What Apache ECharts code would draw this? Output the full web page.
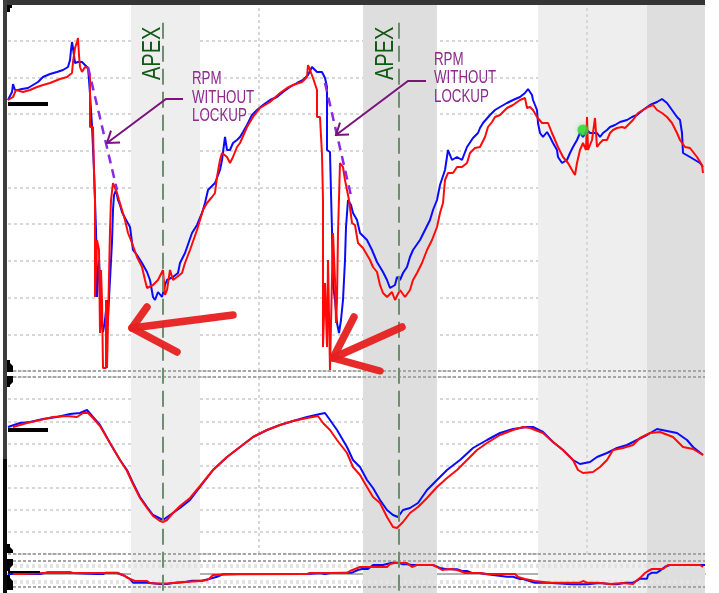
<!DOCTYPE html>
<html><head><meta charset="utf-8">
<script src="https://cdn.jsdelivr.net/npm/echarts@6.0.0/dist/echarts.min.js"></script>
<style>html,body{margin:0;padding:0;background:#fff;}#c{width:719px;height:593px;}</style>
</head><body><div id="c"></div>
<script>
// ---- DATA (distance units along lap, engine rpm, speed km/h, lateral g) ----
const rpmBlue = [[0,8130],[2,8190],[4,8370],[5,8610],[7,8430],[10,8430],[14,8460],[20,8490],[25,8580],[30,8670],[35,8820],[42,8910],[49,8970],[55,9030],[60,9120],[62,9330],[63,9630],[64,9870],[65,9690],[67,9240],[70,9270],[74,9270],[77,9180],[80,9090],[81,8730],[82,8310],[84,7350],[86,6030],[88,4230],[89,2220],[91,3330],[93,2130],[94,1380],[95,1170],[97,1530],[99,2130],[100,1620],[102,2730],[104,3870],[105,4830],[106,5280],[108,5430],[110,5130],[112,4980],[114,4770],[117,4590],[122,4320],[125,3630],[129,3480],[134,3240],[139,2970],[142,2730],[145,2220],[147,2130],[150,2370],[152,2430],[154,2220],[157,2580],[159,2730],[165,2820],[170,2940],[172,3240],[177,3540],[184,4140],[189,4380],[194,4740],[197,5040],[200,5430],[207,5640],[212,6030],[214,6330],[217,7020],[219,6630],[222,6630],[225,6840],[229,6930],[232,7020],[235,7170],[239,7380],[244,7680],[249,7830],[255,7980],[262,8130],[269,8220],[275,8370],[282,8520],[289,8640],[295,8730],[300,8880],[304,9120],[305,9120],[309,8970],[314,8970],[317,8790],[319,8520],[319,6630],[322,6570],[323,5340],[324,4230],[325,2580],[327,2130],[329,1440],[331,1140],[333,1530],[335,2130],[337,3330],[338,4320],[340,5130],[343,4980],[345,4740],[349,4530],[352,4140],[359,3930],[364,3630],[369,3270],[372,3120],[375,2970],[379,2730],[382,2490],[387,2580],[389,2820],[392,2730],[395,2940],[399,3120],[402,3420],[405,3630],[412,3930],[417,4230],[422,4530],[425,4830],[429,5130],[432,5580],[437,6030],[440,6630],[444,6330],[449,6420],[454,6330],[459,6720],[465,6990],[470,7140],[472,7290],[475,7440],[482,7680],[487,7830],[492,7920],[499,8040],[505,8130],[512,8220],[517,8340],[520,8460],[524,8280],[525,8130],[529,7830],[530,7440],[532,7140],[535,7020],[539,7170],[542,7020],[545,6840],[549,6630],[550,6420],[554,6240],[559,6330],[562,6540],[565,6720],[569,6930],[572,7140],[575,7020],[579,7230],[582,7140],[589,7140],[592,7020],[595,7140],[599,7230],[602,7320],[607,7380],[612,7470],[619,7530],[624,7620],[629,7680],[635,7830],[642,7980],[649,8070],[654,8160],[659,8040],[664,7830],[669,7620],[672,7530],[674,7140],[675,6540],[682,6420],[687,6330],[692,6240],[695,6120]];
const rpmRed = [[0,8130],[2,8130],[5,8220],[8,8430],[10,8370],[15,8370],[22,8430],[29,8520],[35,8580],[42,8640],[52,8760],[59,8820],[64,8940],[65,9270],[67,9690],[69,9870],[70,9990],[71,9480],[72,9120],[74,8970],[77,9120],[80,9090],[82,8820],[82,7320],[85,7320],[86,5940],[87,5130],[87,2220],[89,3930],[91,3630],[92,1140],[93,3030],[94,2130],[95,90],[98,90],[98,2130],[99,90],[101,2820],[102,4230],[103,5130],[105,5640],[107,5670],[109,5340],[111,5130],[114,4830],[117,4530],[120,4140],[124,3840],[129,3420],[134,3120],[137,2730],[139,2490],[145,2580],[150,2730],[155,3030],[157,2280],[159,2430],[162,3030],[165,2730],[169,2820],[174,2940],[177,3240],[182,3630],[189,4230],[192,4530],[195,4830],[199,5040],[204,5220],[207,5340],[209,5820],[212,6330],[214,6540],[219,6420],[222,6240],[225,6420],[229,6720],[232,6840],[239,7320],[245,7620],[252,7890],[262,8070],[272,8340],[279,8490],[285,8580],[294,8670],[299,8820],[300,9180],[302,9030],[304,9030],[305,8790],[309,8430],[309,7620],[312,7620],[314,6480],[315,5130],[315,720],[317,2640],[319,720],[320,3330],[322,30],[324,30],[325,4140],[327,2730],[328,1440],[329,2130],[330,4140],[332,6240],[335,6120],[337,5730],[339,5430],[341,5130],[344,4440],[347,4380],[350,3840],[355,3690],[362,3330],[365,3120],[369,2970],[372,2580],[375,2340],[379,2220],[384,2370],[387,2130],[392,2430],[397,2220],[402,2430],[405,2730],[409,2940],[414,3240],[419,3630],[424,3930],[429,4320],[432,4740],[435,5040],[437,5730],[440,5940],[445,5940],[449,6120],[454,6120],[459,6240],[462,6540],[467,6690],[472,6720],[477,7020],[480,7320],[484,7470],[487,7620],[492,7680],[499,7890],[505,7980],[512,8130],[517,8190],[519,7890],[522,7920],[525,7830],[529,7620],[534,7440],[540,7440],[544,7140],[547,6930],[550,6720],[555,6420],[560,6240],[564,6030],[567,5880],[569,6240],[572,6630],[575,6840],[578,6630],[579,7620],[580,6630],[584,6930],[587,7590],[589,6720],[592,6840],[595,6930],[599,6930],[602,7140],[605,7230],[609,7290],[614,7320],[617,7290],[622,7440],[625,7530],[630,7740],[635,7830],[640,7920],[645,7980],[649,7830],[654,7740],[659,7620],[664,7440],[669,7140],[672,6930],[677,6720],[682,6690],[689,6420],[694,6180],[695,5940]];
const speedBlue = [[0,127],[2,127],[12,131],[22,132],[35,135],[49,137],[62,140],[72,141],[79,144],[85,137],[92,129],[102,111],[112,94],[119,84],[125,71],[132,57],[139,47],[145,39],[155,34],[162,39],[172,46],[182,54],[192,67],[205,84],[219,97],[232,107],[245,117],[259,124],[272,129],[285,133],[299,137],[312,140],[317,141],[322,134],[329,124],[339,107],[345,94],[352,87],[359,74],[365,66],[372,54],[379,44],[385,39],[390,37],[395,44],[402,46],[410,51],[419,64],[429,74],[439,84],[452,94],[465,106],[479,114],[492,121],[505,125],[519,127],[525,127],[535,122],[545,112],[555,104],[565,94],[572,90],[582,92],[589,97],[599,101],[609,106],[619,109],[629,114],[639,119],[649,125],[659,123],[669,121],[679,114],[685,107],[695,99]];
const speedRed = [[5,127],[19,131],[32,134],[45,137],[59,138],[69,137],[75,141],[80,141],[85,136],[92,128],[102,111],[112,94],[119,83],[125,70],[132,56],[139,46],[145,38],[152,33],[155,32],[159,34],[164,40],[172,48],[182,56],[192,68],[205,84],[219,97],[232,107],[245,117],[259,124],[272,129],[285,133],[299,136],[310,138],[312,137],[315,131],[322,124],[329,114],[339,101],[345,87],[352,79],[359,67],[365,57],[372,51],[379,37],[385,27],[389,26],[395,32],[402,41],[410,47],[419,56],[429,67],[439,76],[449,84],[459,94],[469,104],[479,111],[492,119],[505,124],[515,127],[522,126],[535,121],[545,112],[555,104],[565,94],[570,84],[575,81],[585,82],[592,87],[599,94],[605,104],[615,106],[625,109],[632,116],[642,121],[652,122],[665,117],[675,107],[685,105],[695,99]];
const latBlue = [[0,0],[32,0],[40,0.17],[62,0.17],[65,0.1],[89,0],[95,0],[98,0.13],[109,0.13],[112,0],[117,-0.2],[122,-0.5],[125,-0.87],[139,-0.87],[142,-0.9],[152,-1.0],[159,-1.0],[165,-0.9],[177,-0.8],[184,-0.67],[194,-0.67],[202,-0.47],[209,-0.27],[215,-0.03],[299,0],[312,0.1],[317,0],[322,0.1],[337,0.13],[344,0.13],[350,0.4],[354,0.5],[360,0.5],[365,0.9],[375,0.9],[384,1.13],[390,1.13],[395,0.97],[399,0.97],[404,0.9],[425,0.9],[429,0.73],[432,0.6],[439,0.47],[449,0.47],[454,0.3],[459,0.3],[464,0.1],[472,0.1],[479,-0.03],[499,-0.27],[505,-0.27],[512,-0.5],[515,-0.5],[527,-0.87],[540,-0.87],[564,-1.03],[579,-1.03],[592,-0.9],[604,-1.03],[609,-1.03],[617,-0.87],[625,-0.87],[629,-0.67],[632,-0.47],[639,-0.47],[640,-0.1],[642,-0.1],[644,0.13],[649,0.13],[652,0.33],[657,0.73],[659,0.73],[662,0.9],[697,0.9]];
const latRed = [[5,0],[15,0],[35,0.1],[62,0.1],[97,0.1],[100,0.1],[109,0.1],[112,0],[115,-0.1],[118,-0.3],[122,-0.5],[127,-0.7],[139,-0.7],[142,-0.9],[149,-0.95],[159,-0.95],[165,-0.9],[177,-0.8],[192,-0.7],[199,-0.6],[202,-0.4],[205,-0.1],[232,0],[299,0],[302,0.1],[339,0.1],[342,0.3],[347,0.5],[352,0.7],[379,0.7],[382,1.0],[387,1.1],[399,1.1],[401,1.0],[404,0.7],[409,0.9],[425,0.9],[429,0.7],[434,0.4],[442,0.5],[449,0.4],[452,0.3],[457,0.1],[472,0.1],[479,0],[507,0],[510,-0.3],[517,-0.5],[527,-0.7],[542,-0.87],[572,-0.87],[575,-0.7],[579,-0.87],[590,-0.87],[592,-1.0],[602,-1.0],[604,-0.9],[615,-0.9],[617,-1.0],[625,-1.0],[628,-0.7],[633,-0.3],[637,0.1],[640,0.3],[644,0.5],[655,0.5],[657,0.7],[660,0.9],[692,0.9],[695,0.7]];

const apexDistances = [155, 391];
const sectorBands = [[123,192,'light'],[355,429,'dark'],[530,639,'light'],[639,697,'dark']];
const gridDistances = [251, 579];
const lockupEstimates = [[[80,9120],[109,5430]], [[317,8640],[344,5130]]];
const greenMarker = [[575, 7230]];
const rpmRefLevel = 8010, speedRefLevel = 124, latRefLevel = 0.2;
const apexLabelAt = [[144.5, 9530], [378, 9530]];
const calloutText = 'RPM\nWITHOUT\nLOCKUP';
const calloutTextAt = [[184, 8190], [426, 8781]];
const calloutArrows = [
  [[175,8160],[158,8160],[99,6840]], [[103,7212],[99,6840],[112,6852]],
  [[418,8700],[400,8700],[328,7080]], [[332,7452],[328,7080],[341,7092]]
];
const redArrows = [
  [[225,1680],[124,1290]], [[139,1920],[124,1290],[169,570]],
  [[394,1320],[325,390]], [[346,1620],[325,390],[372,0]]
];

// ---- STYLE ----
const BLUE = '#0a0aff', RED = '#ff0a0a';
const lightGrid = {color:'#d7d7d7', width:2, type:[3,3]};
const darkDotted = {color:'#a6a6a6', width:2, type:[3,2]};
const X0 = 0, X1 = 697;

function xAx(i, show){
  return {type:'value', gridIndex:i, min:X0, max:X1, show:!!show,
    axisLine:{show:!!show, lineStyle:{color:'#b0b0b0', width:2}}, axisTick:{show:false}, axisLabel:{show:false}, splitLine:{show:false}};
}
function lineSeries(data, color, xi, yi, z){
  return {type:'line', data, xAxisIndex:xi, yAxisIndex:yi, showSymbol:false, symbol:'none',
    lineStyle:{color, width:2}, z:z||2, silent:true, animation:false};
}
function frame(xi, yi, marks){
  return {type:'line', data:[], xAxisIndex:xi, yAxisIndex:yi, z:1, silent:true, clip:false,
    markLine:{z:1, symbol:'none', silent:true, animation:false, label:{show:false}, data:marks}};
}

const option = {
  animation:false,
  backgroundColor:'#ffffff',
  grid:[
    {left:8, top:4, width:697, height:589},
    {left:8, top:4, width:697, height:367},
    {left:8, top:377, width:697, height:177},
    {left:8, top:561, width:697, height:30}
  ],
  xAxis:[xAx(0), xAx(1), xAx(2), xAx(3, true)],
  yAxis:[
    {type:'value', gridIndex:0, min:0, max:1, show:false},
    {type:'value', gridIndex:1, min:0, max:11010, interval:1101, axisLine:{show:false}, axisTick:{show:false}, axisLabel:{show:false}, splitLine:{show:true, lineStyle:lightGrid}},
    {type:'value', gridIndex:2, min:0, max:177, interval:22.125, axisLine:{show:false}, axisTick:{show:false}, axisLabel:{show:false}, splitLine:{show:true, lineStyle:lightGrid}},
    {type:'value', gridIndex:3, min:-1.7, max:1.3, axisLine:{show:false}, axisTick:{show:false}, axisLabel:{show:false}, splitLine:{show:false}}
  ],
  series:[
    {type:'line', data:[], xAxisIndex:0, yAxisIndex:0, z:-5, silent:true,
      markArea:{silent:true, animation:false, data: sectorBands.map(b => [
        {xAxis:b[0], itemStyle:{color: b[2]==='light' ? '#eeeeee' : '#dedede', opacity:1}}, {xAxis:b[1]}])}},
    frame(1,1,[
      ...gridDistances.map(d => ({xAxis:d, lineStyle:lightGrid})),
      {yAxis:0, lineStyle:darkDotted}
    ]),
    frame(2,2,[
      ...gridDistances.map(d => ({xAxis:d, lineStyle:lightGrid})),
      {yAxis:177, lineStyle:darkDotted},
      {yAxis:0, lineStyle:darkDotted}
    ]),
    frame(3,3,[
      {yAxis:1.3, lineStyle:darkDotted},
      {yAxis:-1.3, lineStyle:darkDotted},
      {yAxis:0.8, lineStyle:{color:'#e3e3e3', width:4, type:[3,3]}},
      {yAxis:-0.8, lineStyle:{color:'#e3e3e3', width:4, type:[3,3]}}
    ]),
    lineSeries(rpmBlue, BLUE, 1, 1),
    lineSeries(rpmRed, RED, 1, 1, 3),
    lineSeries(speedBlue, BLUE, 2, 2),
    lineSeries(speedRed, RED, 2, 2, 3),
    lineSeries(latBlue, BLUE, 3, 3),
    lineSeries(latRed, RED, 3, 3, 3),
    ...lockupEstimates.map(seg => ({type:'line', data:seg, xAxisIndex:1, yAxisIndex:1, showSymbol:false, symbol:'none', z:6, silent:true,
      lineStyle:{color:'#8a2be2', width:2.5, type:[9,6]}})),
    {type:'scatter', data:greenMarker, xAxisIndex:1, yAxisIndex:1, symbolSize:11, z:7, silent:true,
      itemStyle:{color:'#2ed62e', shadowColor:'rgba(60,220,60,0.6)', shadowBlur:4}},
    {type:'lines', coordinateSystem:'cartesian2d', xAxisIndex:1, yAxisIndex:1, polyline:true, z:9, silent:true,
      lineStyle:{color:'#7a137a', width:2, opacity:1, join:'miter'}, data: calloutArrows.map(c => ({coords:c}))},
    {type:'lines', coordinateSystem:'cartesian2d', xAxisIndex:1, yAxisIndex:1, polyline:true, z:10, silent:true,
      lineStyle:{color:'#e62020', width:7.5, opacity:0.95, cap:'round', join:'round'}, data: redArrows.map(c => ({coords:c}))},
    {type:'lines', coordinateSystem:'cartesian2d', xAxisIndex:1, yAxisIndex:1, z:9, silent:true,
      lineStyle:{color:'#000', width:4, opacity:1}, data:[{coords:[[0,rpmRefLevel],[40,rpmRefLevel]]}]},
    {type:'lines', coordinateSystem:'cartesian2d', xAxisIndex:2, yAxisIndex:2, z:9, silent:true,
      lineStyle:{color:'#000', width:4, opacity:1}, data:[{coords:[[0,speedRefLevel],[40,speedRefLevel]]}]},
    {type:'lines', coordinateSystem:'cartesian2d', xAxisIndex:3, yAxisIndex:3, z:9, silent:true,
      lineStyle:{color:'#000', width:2, opacity:1}, data:[{coords:[[0,latRefLevel],[32,latRefLevel]]}]},
    {type:'line', data:[], xAxisIndex:0, yAxisIndex:0, z:8, silent:true, clip:false,
      markLine:{z:8, symbol:'none', silent:true, animation:false, label:{show:false},
        lineStyle:{color:'#6e8f6e', width:2, type:[16,7]},
        data: apexDistances.map(d => [{coord:[d, 0.968]}, {coord:[d, 0]}])}}
  ]
};

const chart = echarts.init(document.getElementById('c'), null, {renderer:'canvas'});
chart.setOption(option);

const g = [
  {type:'rect', shape:{x:3, y:0, width:702, height:5}, style:{fill:'#353535'}, z:30},
  {type:'rect', shape:{x:3, y:0, width:4, height:459}, style:{fill:'#3d3d3d'}, z:30},
  {type:'rect', shape:{x:3, y:459, width:4, height:134}, style:{fill:'#0a0a0a'}, z:30},
  {type:'polygon', shape:{points:[[7,5],[12,5],[12,8],[10,8],[10,12],[7,12]]}, style:{fill:'#000'}, z:30},
  {type:'polygon', shape:{points:[[7,360],[10,360],[10,363],[13,366],[13,372],[7,372]]}, style:{fill:'#000'}, z:30},
  {type:'polygon', shape:{points:[[7,376],[13,376],[13,382],[10,385],[10,387],[7,387]]}, style:{fill:'#000'}, z:30},
  {type:'polygon', shape:{points:[[7,544],[10,544],[10,547],[13,550],[13,553],[7,553]]}, style:{fill:'#000'}, z:30},
  {type:'polygon', shape:{points:[[7,559],[13,559],[13,565],[10,568],[10,571],[7,571]]}, style:{fill:'#000'}, z:30},
  {type:'polygon', shape:{points:[[7,575],[10,575],[10,578],[13,581],[13,590],[7,590]]}, style:{fill:'#000'}, z:30}
];
apexLabelAt.forEach(a => {
  const p = chart.convertToPixel({gridIndex:1}, a);
  g.push({type:'text', x:p[0], y:p[1], rotation:Math.PI/2, scaleX:0.77, z:20,
    style:{text:'APEX', font:'26px "Liberation Sans", Arial, sans-serif', fill:'#115a14', align:'center', verticalAlign:'middle'}});
});
calloutTextAt.forEach(a => {
  const p = chart.convertToPixel({gridIndex:1}, a);
  g.push({type:'text', x:p[0], y:p[1], scaleX:0.74, z:20,
    style:{text:calloutText, font:'18px "Liberation Sans", Arial, sans-serif', lineHeight:18.5, fill:'#8c2a8c', align:'left', verticalAlign:'middle'}});
});
chart.setOption({graphic:g});
</script>
</body></html>
